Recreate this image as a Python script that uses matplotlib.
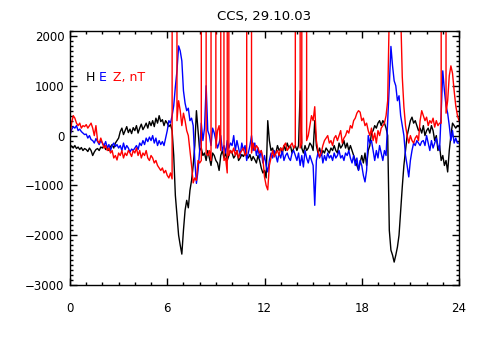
import numpy as np
import matplotlib
matplotlib.use("Agg")
import matplotlib.pyplot as plt
from matplotlib.ticker import MultipleLocator

# Magnetometer record, one value every 0.1 hour (UT), in nT
hours = np.linspace(0, 24, 241)

h_comp = [
    -180, -220, -250, -200, -260, -230, -280, -240, -300, -260,
    -280, -320, -250, -300, -400, -330, -280, -260, -300, -230,
    -250, -200, -280, -230, -300, -220, -180, -250, -150, -100,
    -50, 80, 150, 20, 100, 180, 60, 130, 40, 160,
    100, 200, 50, 150, 230, 120, 180, 250, 150, 280,
    200, 300, 180, 350, 250, 400, 280, 320, 200, 300,
    250, 180, 220, 100, -400, -1200, -1600, -2000, -2200, -2380,
    -1900, -1500, -1300, -1450, -1100, -900, -600, -200, 500, 100,
    -300, -250, -400, -350, -500, -300, -450, -600, -350, -400,
    -500, -550, -700, -400, -300, -450, -350, -500, -400, -300,
    -350, -450, -400, -300, -500, -450, -380, -420, -350, -400,
    -450, -380, -500, -420, -480, -550, -400, -500, -650, -750,
    -700, -850, 300, -100, -300, -250, -400, -350, -200, -300,
    -250, -350, -200, -300, -150, -250, -200, -350, -250, -200,
    -300, -200, 900, -250, -350, -200, -300, -250, -150, -200,
    -300, 300, -200, -350, -250, -400, -300, -350, -250, -300,
    -350, -250, -300, -200, -300, -350, -150, -250, -200, -100,
    -250, -150, -300, -200, -300, -400, -500, -600, -690, -550,
    -400, -550, -350, -600, -300, -200, 50, 100, 200, 150,
    250, 300, 200, 300, 250, 150, 0, -1900, -2300, -2400,
    -2540, -2400, -2240, -2000, -1500, -1030, -600, -300, 0, 150,
    300, 370, 250, 300, 200, 100, 150, 50, 200, 0,
    100, 150, 50, 200, 100, -100, 0, -300, -200, -500,
    -400, -600, -500, -730, -300, 0, 250, 200, 150, 200,
    200,
]

e_comp = [
    0, 120, 180, 150, 200, 100, 130, 80, 50, 20,
    30, -50, 0, -80, -100, -150, -60, -120, -180, -100,
    -150, -200, -120, -250, -180, -300, -200, -150, -220, -180,
    -250, -200, -300, -150, -280, -200, -250, -330, -270, -300,
    -250, -200, -280, -150, -200, -100, -180, -50, -120, -30,
    -100, 0, -150, -50, -200, -100, -180, -120, -200, -50,
    100, 300, 250, 400, 600, 980, 1300, 1800, 1700, 1500,
    900, 650, 500, 550, 300, 350, 200, -500, -960, -700,
    -300, 250, -100, 150, 1000, 100, 0, -200, 150, 50,
    -100, -250, -150, 0, -300, -200, -350, -100, -250, -150,
    -200, 0, -300, -100, -250, -400, -150, -300, -200, -500,
    -350, -200, 0, -300, -150, -400, -250, -450, -300, -550,
    -400, -600, -730, -500, -350, -450, -300, -400, -530, -350,
    -450, -300, -500, -400, -350, -450, -500, -350, -300, -400,
    -500, -350, -600, -400, -630, -300, -450, -550, -400, -500,
    -600, -1400, -500, -350, -450, -300, -550, -400, -500, -350,
    -450, -400, -500, -350, -450, -400, -300, -450, -400, -500,
    -350, -400, -300, -450, -550, -400, -600, -450, -700, -500,
    -600, -800, -930, -700, 0, -150, -100, -300, -500, -300,
    -450, -200, -350, -500, -300, -400, 300, 1000, 1790, 1400,
    1100, 1000, 700, 800, 400, 200, 0, -400, -600, -830,
    -500, -300, -150, -200, -100, -150, -200, -120, -100, -200,
    0, -150, -300, -100, -250, -150, -50, -200, -300, 450,
    1300, 900, 600, 450, 200, -100, 100, -150, -50, -150,
    -150,
]

z_comp = [
    0, 250, 400, 350, 250, 200, 250, 150, 200, 180,
    220, 150, 200, 250, 150, 0, 200, -100, -150, -50,
    -150, -250, -200, -300, -250, -350, -300, -450, -400, -490,
    -350, -400, -300, -450, -350, -400, -300, -350, -420, -300,
    -350, -250, -400, -300, -450, -350, -400, -300, -450, -500,
    -400, -450, -550, -500, -600, -650, -700, -650, -750, -700,
    -800, -850, -750, -870, 800, 500, 300, 700, 500, 200,
    450, 300, 100, 0, -300, -600, -950, -850, -900, -500,
    -550, -500, -300, -400, -350, -400, -300, -500, -450, -350,
    -250, 100, 200, -300, -400, -500, -450, -750, -400, -300,
    -350, -250, -400, -300, -450, -350, -300, -250, -400, -350,
    -300, -250, -350, -150, -300, -200, -250, -350, -300, -450,
    -830, -1000, -1090, -600, -450, -300, -430, -350, -300, -400,
    -250, -300, -200, -150, -300, -250, -200, -150, -250, -200,
    -300, -200, -250, -150, -200, -300, -100, 0, 200, 400,
    300, 580, -100, -300, -430, -350, -200, -100, -50, 0,
    -150, -100, -200, -50, 0, -100, 0, 100, -150, -50,
    0, 100, 50, 200, 150, 300, 350, 450, 500, 470,
    300, 350, 200, 250, 100, 0, 150, -100, 50, -150,
    100, 0, 150, 200, 250, 400, 700, 2500, 2500, 2500,
    2500, 2500, 2500, 2500, 2500, 1180, 580, 200, 0, -150,
    0, -100, -150, -50, 0, -100, 300, 500, 400, 300,
    370, 200, 300, 250, 350, 170, 300, 200, 250, 250,
    300, 450, 450, 700, 1200, 1400, 1250, 900, 600, 410,
    300,
]

# Z gaps filled with a flag value (off scale), start and end hour
gap_start = [6.36, 8.16, 8.78, 9.38, 9.75, 11.00, 13.99, 14.39, 22.97]
gap_end = [6.54, 8.35, 8.95, 9.42, 9.79, 11.17, 14.17, 14.58, 23.18]
flag = 99999.0

# put the flag samples into the Z record
z_t = list(hours)
z_v = list(z_comp)
keep = [i for i in range(len(z_t))
        if not any(s <= z_t[i] <= e for s, e in zip(gap_start, gap_end))]
z_t = [z_t[i] for i in keep]
z_v = [z_v[i] for i in keep]
for s, e in zip(gap_start, gap_end):
    z_t += [s, e]
    z_v += [flag, flag]
order = np.argsort(z_t)
z_t = np.array(z_t)[order]
z_v = np.array(z_v)[order]

fig = plt.figure(figsize=(4.8, 3.5), dpi=100)
ax = fig.add_axes([70 / 480, 65 / 350, 389 / 480, 254 / 350])

ax.plot(hours, h_comp, color="black", lw=1.0)
ax.plot(hours, e_comp, color="blue", lw=1.0)
ax.plot(z_t, z_v, color="red", lw=1.0)

ax.set_xlim(0, 24)
ax.set_ylim(-3000, 2100)
ax.xaxis.set_major_locator(MultipleLocator(6))
ax.xaxis.set_minor_locator(MultipleLocator(1))
ax.yaxis.set_major_locator(MultipleLocator(1000))
ax.yaxis.set_minor_locator(MultipleLocator(100))
ax.tick_params(which="both", direction="in", top=True, right=True,
               width=1.0, labelsize=8.5)
ax.tick_params(which="major", length=5)
ax.tick_params(which="minor", length=2.5)
ax.tick_params(axis="x", pad=12)
ax.tick_params(axis="y", pad=4)
for sp in ax.spines.values():
    sp.set_linewidth(1.0)

ax.set_title("CCS, 29.10.03", fontsize=9.5, pad=8)

# component labels
ax.text(0.041, 0.815, "H", color="black", fontsize=9,
        transform=ax.transAxes, va="center")
ax.text(0.075, 0.815, "E", color="blue", fontsize=9,
        transform=ax.transAxes, va="center")
ax.text(0.111, 0.815, "Z, nT", color="red", fontsize=9,
        transform=ax.transAxes, va="center")

fig.savefig("out.png", dpi=100)
